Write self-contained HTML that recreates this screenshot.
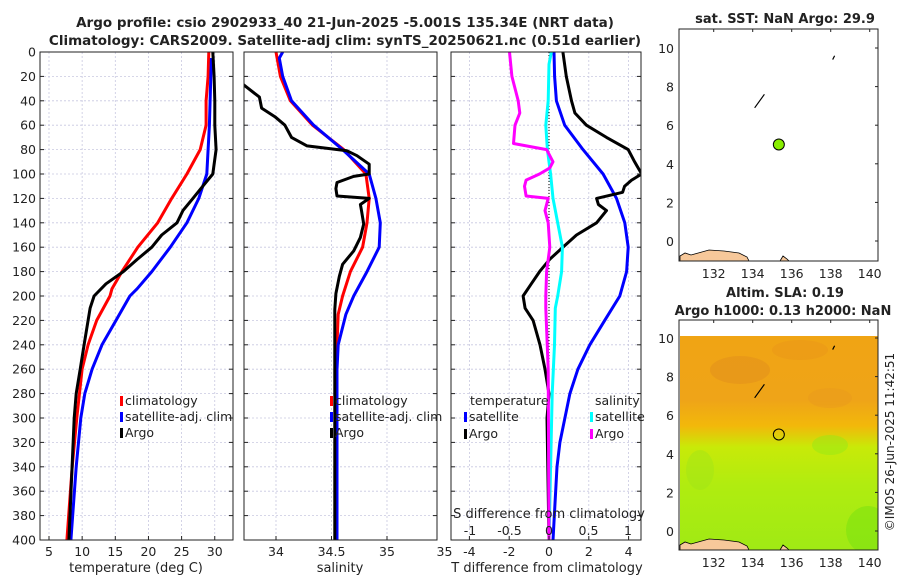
<!DOCTYPE html>
<html><head><meta charset="utf-8"><style>
body{margin:0;background:#fff;font-family:"Liberation Sans","DejaVu Sans",sans-serif;}
svg text{font-family:"DejaVu Sans","Liberation Sans",sans-serif;fill:#222;}
</style></head><body>
<svg id="chart" width="900" height="580" viewBox="0 0 900 580" xmlns="http://www.w3.org/2000/svg">
<defs>
<linearGradient id="slaGrad" x1="0" y1="0" x2="0" y2="1">
<stop offset="0" stop-color="#f0a414"/><stop offset="0.3" stop-color="#efa418"/><stop offset="0.42" stop-color="#f2b80a"/><stop offset="0.52" stop-color="#c8ea08"/><stop offset="0.7" stop-color="#b0ec10"/><stop offset="1" stop-color="#a0ea14"/>
</linearGradient>
<clipPath id="c1"><rect x="40" y="52" width="193" height="488"/></clipPath>
<clipPath id="c2"><rect x="244" y="52" width="193" height="488"/></clipPath>
<clipPath id="c3"><rect x="451" y="52" width="190" height="488"/></clipPath>
<clipPath id="m2clip"><rect x="680" y="336" width="198" height="214"/></clipPath>
</defs>
<text x="345" y="27" text-anchor="middle" font-size="13.5" font-weight="bold">Argo profile: csio 2902933_40 21-Jun-2025 -5.001S 135.34E (NRT data)</text>
<text x="345" y="45" text-anchor="middle" font-size="13.5" font-weight="bold">Climatology: CARS2009. Satellite-adj clim: synTS_20250621.nc (0.51d earlier)</text>
<g id="panels"></g>
<text x="785" y="23" text-anchor="middle" font-size="13" font-weight="bold">sat. SST: NaN Argo: 29.9</text>
<text x="785" y="297" text-anchor="middle" font-size="13" font-weight="bold">Altim. SLA: 0.19</text>
<text x="783" y="315" text-anchor="middle" font-size="13" font-weight="bold">Argo h1000: 0.13 h2000: NaN</text>
<text transform="translate(894,442) rotate(-90)" text-anchor="middle" font-size="12">©IMOS 26-Jun-2025 11:42:51</text>
</svg>
<script>
const depthT=[0,20,40,60,80,100,120,140,160,180,194,200,220,240,260,300,340,400];
const climT=[29.1,29.0,28.7,28.7,27.8,25.8,23.5,21.4,18.4,16.0,14.5,14.2,12.2,10.9,10.0,9.2,8.5,7.7];
const depthTs=[5,20,60,100,120,140,160,180,194,200,220,240,260,280,300,340,400];
const satT=[29.5,29.4,29.2,28.8,27.6,25.8,23.3,20.5,18.3,17.2,15.1,13.0,11.5,10.4,9.8,9.1,8.3];
const depthTa=[0,20,40,60,80,100,110,120,130,140,150,160,170,180,190,200,210,220,240,260,280,300,400];
const argoT=[29.7,29.9,30.0,30.0,30.2,29.7,28.2,26.7,25.2,24.3,22.0,20.5,18.3,16.2,13.6,11.8,11.2,10.9,10.3,9.7,9.1,8.8,8.0];
const depthS=[0,20,40,60,80,100,120,140,160,180,200,215,240,260,300,400];
const climS=[34.0,34.04,34.13,34.33,34.61,34.81,34.84,34.82,34.78,34.67,34.6,34.56,34.55,34.55,34.55,34.55];
const depthSs=[0,5,20,40,60,80,100,120,140,160,180,200,215,240,260,400];
const satS=[34.06,34.03,34.06,34.14,34.34,34.6,34.84,34.9,34.94,34.93,34.82,34.7,34.63,34.56,34.55,34.55];
const depthSa=[0,20,27,37,46,53,60,70,77,81,85,92,100,102,107,112,118,120,125,130,141,152,163,174,184,198,211,240,400];
const argoS=[33.6,33.65,33.71,33.85,33.87,33.99,34.08,34.14,34.28,34.64,34.73,34.84,34.84,34.7,34.55,34.54,34.55,34.84,34.76,34.77,34.79,34.76,34.7,34.6,34.57,34.54,34.53,34.53,34.53];
const depthD=[0,20,40,60,80,100,120,140,160,180,200,220,240,260,280,300,320,340,400];
const satDT=[0.25,0.28,0.37,0.79,1.71,2.72,3.39,3.81,3.98,3.9,3.56,2.8,2.05,1.45,1.05,0.8,0.55,0.4,0.2];
const depthDa=[0,20,40,50,60,70,80,90,100,105,110,115,120,125,130,140,150,160,170,180,190,200,210,220,240,260,280,300,400];
const argoDT=[0.7,0.87,1.13,1.3,1.88,2.89,3.98,4.3,4.66,4.15,3.8,3.7,2.39,2.48,2.89,2.39,1.38,0.7,0.03,-0.47,-0.89,-1.3,-1.2,-0.8,-0.45,-0.2,0,-0.1,0];
const depthDS=[0,10,40,60,80,100,120,140,160,180,200,210,240,280,340,400];
const satDS=[0.03,0,-0.01,-0.04,-0.02,0.02,0.05,0.11,0.17,0.16,0.11,0.08,0.07,0.04,0.02,0.0];
const depthDSa=[0,20,40,50,60,75,80,90,95,100,105,110,118,120,130,140,160,180,200,210,260,400];
const argoDS=[-0.5,-0.47,-0.39,-0.37,-0.43,-0.45,-0.03,0.05,0.01,-0.12,-0.29,-0.31,-0.29,-0.01,-0.05,-0.01,0.01,-0.03,-0.04,-0.04,-0.01,0.0];
const tTicks=[5,10,15,20,25,30];
const sTicks=[34,34.5,35,35.5];
const dTTicks=[-4,-2,0,2,4];
const dSTicks=[-1,-0.5,0,0.5,1];
const depthTicks=[0,20,40,60,80,100,120,140,160,180,200,220,240,260,280,300,320,340,360,380,400];
const latTicks=[0,2,4,6,8,10];
const lonTicks=[132,134,136,138,140];
const argoLon=135.34, argoLat=5.0;

const NS="http://www.w3.org/2000/svg";
const g=document.getElementById('panels');
function el(tag,attrs,parent){const e=document.createElementNS(NS,tag);for(const k in attrs)e.setAttribute(k,attrs[k]);(parent||g).appendChild(e);return e;}
const yD=d=>52+(d/400)*488;
const xT=v=>15.85+v*6.63;
const xS=v=>276+(v-34)*111;
const xDT=v=>549+v*19.9;
const xDS=v=>549+v*79;

function grid(x0,x1,xs,name){
  depthTicks.forEach(d=>{const l=el('line',{x1:x0,x2:x1,y1:yD(d),y2:yD(d),stroke:'#c8c8e0','stroke-dasharray':'2,2','stroke-width':0.8});
    
    });
  xs.forEach(x=>{if(x<=x0||x>=x1)return;const l=el('line',{x1:x,x2:x,y1:52,y2:540,stroke:'#c8c8e0','stroke-dasharray':'2,2','stroke-width':0.8});
    
    });
}
function frame(x0,x1,name,leftLabels){
  depthTicks.forEach(d=>{
    const t1=el('line',{x1:x0,x2:x0+4,y1:yD(d),y2:yD(d),stroke:'#222'});
    
    
    const t2=el('line',{x1:x1-4,x2:x1,y1:yD(d),y2:yD(d),stroke:'#222'});
    
    
    if(leftLabels){const t=el('text',{x:x0-4,y:yD(d)+4.5,'text-anchor':'end','font-size':12.5});t.textContent=d;
      
      }
  });
  const b=el('rect',{x:x0,y:52,width:x1-x0,height:488,fill:'none',stroke:'#222','stroke-width':1});
  
  
}
function xticks(ticks,fx,y,name){
  ticks.forEach(v=>{const x=fx(v);
    const l=el('line',{x1:x,x2:x,y1:540,y2:536,stroke:'#222'});
    
    
    const t=el('text',{x:x,y:y,'text-anchor':'middle','font-size':12.5});t.textContent=v;
    
    });
}
function line(vals,depths,fx,color,name,clip){
  const d=vals.map((v,i)=>(i?'L':'M')+fx(v).toFixed(1)+','+yD(depths[i]).toFixed(1)).join('');
  const p=el('path',{d:d,fill:'none',stroke:color,'stroke-width':3,'stroke-linejoin':'round','clip-path':'url(#'+clip+')'});
  
  
}
function legend(x,y,color,label,name){
  const m=el('rect',{x:x,y:y-9,width:3,height:10,fill:color});
  
  
  const t=el('text',{x:x+5,y:y,'font-size':12.5});t.textContent=label;
  
  
}
function xlabel(x,y,s,name){const t=el('text',{x:x,y:y,'text-anchor':'middle','font-size':13});t.textContent=s;
  
  }

// Panel 1
grid(40,233,tTicks.map(xT),'temperature');
line(climT,depthT,xT,'#ff0000','climatology-temperature-line','c1');
line(satT,depthTs,xT,'#0000ff','satellite-temperature-line','c1');
line(argoT,depthTa,xT,'#000','argo-temperature-line','c1');
frame(40,233,'temperature',true);xticks(tTicks,xT,556,'temperature');
xlabel(136,572,'temperature (deg C)','temperature-axis-title');
legend(120,405,'#ff0000','climatology','legend-climatology');
legend(120,421,'#0000ff','satellite-adj. clim','legend-satellite-adj');
legend(120,437,'#000','Argo','legend-argo');

// Panel 2
grid(244,437,sTicks.map(xS),'salinity');
line(climS,depthS,xS,'#ff0000','climatology-salinity-line','c2');
line(satS,depthSs,xS,'#0000ff','satellite-salinity-line','c2');
line(argoS,depthSa,xS,'#000','argo-salinity-line','c2');
frame(244,437,'salinity',false);xticks(sTicks.slice(0,3),xS,556,'salinity');
const s35=el('text',{x:xS(35.5)-6,y:556,'font-size':12.5});s35.textContent='35';


xlabel(340,572,'salinity','salinity-axis-title');
legend(330,405,'#ff0000','climatology','legend-climatology-2');
legend(330,421,'#0000ff','satellite-adj. clim','legend-satellite-adj-2');
legend(330,437,'#000','Argo','legend-argo-2');

// Panel 3
grid(451,641,dTTicks.map(xDT),'difference');
const zl=el('line',{x1:549,x2:549,y1:52,y2:540,stroke:'#000','stroke-dasharray':'1,2','stroke-width':1});


line(satDT,depthD,xDT,'#0000ff','satellite-temp-diff-line','c3');
line(argoDT,depthDa,xDT,'#000','argo-temp-diff-line','c3');
line(satDS,depthDS,xDS,'#00ffff','satellite-sal-diff-line','c3');
line(argoDS,depthDSa,xDS,'#ff00ff','argo-sal-diff-line','c3');
frame(451,641,'difference',false);xticks(dTTicks,xDT,556,'temp-diff');
xlabel(547,572,'T difference from climatology','temp-diff-axis-title');
dSTicks.forEach(v=>{const t=el('text',{x:xDS(v),y:535,'text-anchor':'middle','font-size':12.5});t.textContent=v;
  
  });
xlabel(549,518,'S difference from climatology','sal-diff-axis-title');
const lt=el('text',{x:470,y:405,'font-size':12.5});lt.textContent='temperature';


const ls=el('text',{x:595,y:405,'font-size':12.5});ls.textContent='salinity';


legend(464,421,'#0000ff','satellite','legend-temp-satellite');
legend(464,438,'#000','Argo','legend-temp-argo');
legend(590,421,'#00ffff','satellite','legend-sal-satellite');
legend(590,438,'#ff00ff','Argo','legend-sal-argo');

// maps
function map(y0,y1,lat10y,lat0y,name,bgFill){
  const x0=679,x1=878;
  const mx=lon=>679+(lon-130.22)*19.5;
  const my=lat=>lat0y+(lat10y-lat0y)*lat/10;
  if(bgFill){
    const r=el('rect',{x:680,y:336,width:198,height:214,fill:'url(#slaGrad)'});
    
    
    const gg=el('g',{'clip-path':'url(#m2clip)'});
    
    
    [[740,370,30,14,'#e08c1c'],[800,350,28,10,'#e89418'],[830,398,22,10,'#e89a1c'],[868,530,22,24,'#70e010'],[830,445,18,10,'#90e818'],[700,470,14,20,'#a0e418']].forEach(b=>{
      const e=el('ellipse',{cx:b[0],cy:b[1],rx:b[2],ry:b[3],fill:b[4],opacity:0.45},gg);
      
      });
  }
  const land=el('path',{d:`M${x0+1},${y1} L${x0+1},${y1-5} L${x0+6},${y1-8} L${x0+12},${y1-6} L${x0+30},${y1-11} L${x0+45},${y1-10} L${x0+60},${y1-8} L${x0+68},${y1-4} L${x0+70},${y1} Z M${x0+101},${y1} L${x0+104},${y1-5} L${x0+108},${y1-2} L${x0+110},${y1} Z`,fill:'#f7c89a',stroke:'#000','stroke-width':0.8});
  
  
  const isl=el('path',{d:`M${mx(134.1)},${my(6.9)} L${mx(134.6)},${my(7.6)} M${mx(138.1)},${my(9.4)} L${mx(138.2)},${my(9.6)}`,stroke:'#000','stroke-width':1.2,fill:'none'});
  
  
  const f=el('rect',{x:x0,y:y0,width:x1-x0,height:y1-y0,fill:'none',stroke:'#222'});
  
  
  latTicks.forEach(v=>{const t=el('text',{x:x0-5,y:my(v)+5,'text-anchor':'end','font-size':12.5});t.textContent=v;
    
    
    const l=el('line',{x1:x1-3,x2:x1,y1:my(v),y2:my(v),stroke:'#222'});
    
    });
  lonTicks.forEach(v=>{const t=el('text',{x:mx(v),y:y1+17,'text-anchor':'middle','font-size':12.5});t.textContent=v;
    
    
    const l=el('line',{x1:mx(v),x2:mx(v),y1:y0,y2:y0+3,stroke:'#222'});
    
    });
  const c=el('circle',{cx:mx(argoLon),cy:my(argoLat),r:5.5,fill:bgFill?'none':'#88ee00',stroke:'#000','stroke-width':1});
  
  
}
map(29,261,48,241,'sst-map',false);
map(320,550,338,531,'sla-map',true);
</script>
</body></html>
